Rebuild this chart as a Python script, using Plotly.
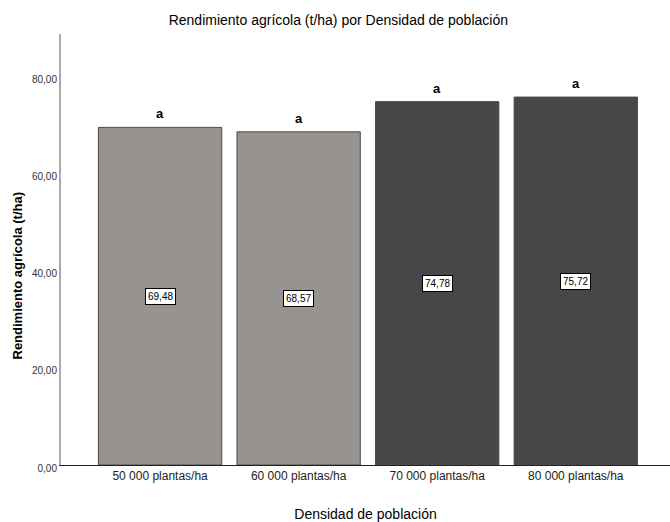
import plotly.graph_objects as go

# Rendimiento medio por densidad de población
categorias = ["50 000 plantas/ha", "60 000 plantas/ha", "70 000 plantas/ha", "80 000 plantas/ha"]
rendimiento = [69.48, 68.57, 74.78, 75.72]
letras = ["a", "a", "a", "a"]
colores = ["#979391", "#979391", "#464749", "#464749"]

NARROW = "Liberation Sans Narrow, Arial Narrow, Liberation Sans, Arial"
SANS = "Liberation Sans, Arial"

fig = go.Figure(
    go.Bar(
        x=categorias,
        y=rendimiento,
        marker=dict(color=colores, line=dict(color="#4a4a4a", width=1)),
        width=0.89,
        hoverinfo="skip",
    )
)

# etiquetas de valor centradas en cada barra
for c, v in zip(categorias, rendimiento):
    fig.add_annotation(
        x=c, y=v / 2, text=f"{v:.2f}".replace(".", ","), showarrow=False,
        font=dict(family=NARROW, size=10, color="black"),
        bgcolor="white", bordercolor="black", borderwidth=1, borderpad=2,
    )

# letras de significación sobre cada barra
for c, v, l in zip(categorias, rendimiento, letras):
    fig.add_annotation(
        x=c, y=v, text=f"<b>{l}</b>", showarrow=False, yanchor="bottom", yshift=4,
        font=dict(family=NARROW, size=13, color="black"),
    )

# título del eje Y
fig.add_annotation(
    xref="paper", yref="paper", x=-0.072, y=0.44, textangle=-90,
    text="<b>Rendimiento agrícola (t/ha)</b>", showarrow=False,
    xanchor="center", yanchor="middle",
    font=dict(family=SANS, size=13, color="black"),
)

fig.update_layout(
    width=670, height=522,
    margin=dict(l=61, r=0, t=34, b=57),
    paper_bgcolor="white", plot_bgcolor="white",
    separators=", ",
    showlegend=False,
    title=dict(
        text="Rendimiento agrícola (t/ha) por Densidad de población",
        x=0.505, xanchor="center", y=0.962, yanchor="middle",
        font=dict(family=NARROW, size=14, color="black"),
    ),
    xaxis=dict(
        range=[-0.715, 3.68],
        showline=True, linecolor="#222222", linewidth=1,
        showgrid=False, ticks="",
        tickfont=dict(family=NARROW, size=12, color="#222222"),
        title=dict(text="Densidad de población", standoff=26,
                   font=dict(family=NARROW, size=14, color="black")),
    ),
    yaxis=dict(
        range=[0, 88.7],
        tickvals=[0, 20, 40, 60, 80],
        tickformat=".2f",
        ticklabelshift=3,
        showline=True, linecolor="#aaaaaa", linewidth=2,
        showgrid=False, zeroline=False, ticks="",
        tickfont=dict(family=NARROW, size=10, color="#333333"),
    ),
)

fig.write_html("out.html")
